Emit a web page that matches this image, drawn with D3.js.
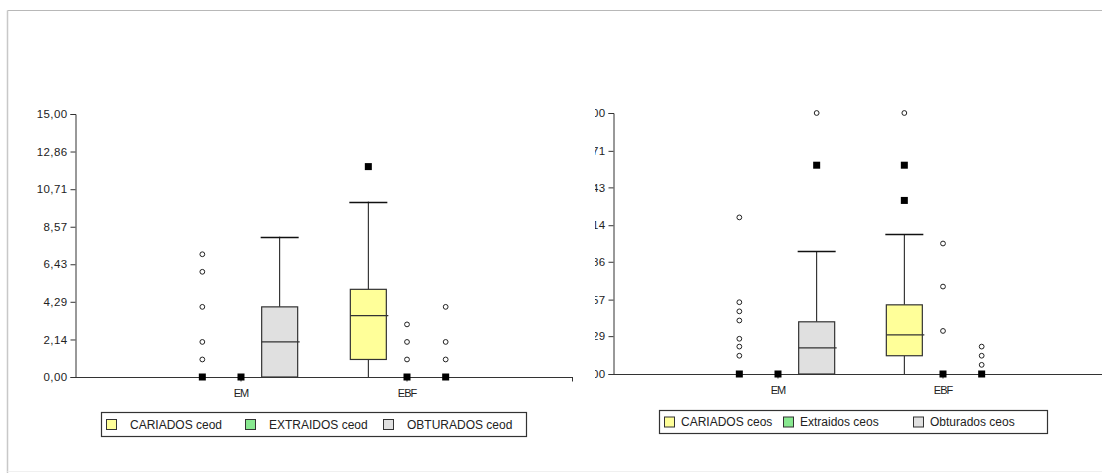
<!DOCTYPE html>
<html>
<head>
<meta charset="utf-8">
<script src="https://cdn.jsdelivr.net/npm/d3@7"></script>
<style>
  html, body { margin: 0; padding: 0; background: #fff; }
  svg { display: block; }
  text { font-family: "Liberation Sans", Arial, sans-serif; fill: #222; }
</style>
</head>
<body>
<svg id="chart" width="1102" height="473"></svg>
<script>
// Groups on the x axis
const categories = ["EM", "EBF"];

// ceod panel: one entry per group (EM, EBF). box = [low whisker, q1, median, q3, high whisker]
const ceodCariadosBox      = [null, [0, 1, 3.5, 5, 10]];
const ceodCariadosOutliers = [[1, 2, 4, 6, 7], []];
const ceodCariadosExtremes = [[0], [12]];

const ceodExtraidosBox      = [null, null];
const ceodExtraidosOutliers = [[], [1, 2, 3]];
const ceodExtraidosExtremes = [[0], [0]];

const ceodObturadosBox      = [[0, 0, 2, 4, 8], null];
const ceodObturadosOutliers = [[], [1, 2, 4]];
const ceodObturadosExtremes = [[], [0]];

const ceodTicks = [0, 2.14, 4.29, 6.43, 8.57, 10.71, 12.86, 15];
const ceodLegend = ["CARIADOS ceod", "EXTRAIDOS ceod", "OBTURADOS ceod"];

// ceos panel
const ceosCariadosBox      = [null, [0, 0.14, 0.30, 0.53, 1.07]];
const ceosCariadosOutliers = [[0.14, 0.21, 0.27, 0.41, 0.48, 0.55, 1.2], [2.0]];
const ceosCariadosExtremes = [[0], [1.33, 1.6]];

const ceosExtraidosBox      = [null, null];
const ceosExtraidosOutliers = [[], [0.33, 0.67, 1.0]];
const ceosExtraidosExtremes = [[0], [0]];

const ceosObturadosBox      = [[0, 0, 0.2, 0.4, 0.94], null];
const ceosObturadosOutliers = [[2.0], [0.07, 0.14, 0.21]];
const ceosObturadosExtremes = [[1.6], [0]];

const ceosTicks = [0, 0.29, 0.57, 0.86, 1.14, 1.43, 1.71, 2];
const ceosLegend = ["CARIADOS ceos", "Extraidos ceos", "Obturados ceos"];

const seriesColors = ["#ffff99", "#88e890", "#e0e0e0"];

const svg = d3.select("#chart");
const fmt = v => d3.format(".2f")(v).replace(".", ",");

// outer frame
svg.append("line").attr("x1", 7.5).attr("x2", 1102).attr("y1", 10.5).attr("y2", 10.5)
  .attr("stroke", "#b8b8b8").attr("stroke-width", 1.2);
svg.append("line").attr("x1", 7.5).attr("x2", 7.5).attr("y1", 10.5).attr("y2", 473)
  .attr("stroke", "#c8c8c8").attr("stroke-width", 1.5);
svg.append("line").attr("x1", 7.5).attr("x2", 1102).attr("y1", 471.5).attr("y2", 471.5)
  .attr("stroke", "#f0f0f0").attr("stroke-width", 1);

function drawPanel(p) {
  const g = svg.append("g");
  const y = d3.scaleLinear().domain(p.domain).range([p.y0, p.y1]);
  const x = d3.scalePoint().domain(categories).range([p.x0, p.x1]).padding(1);
  const inner = d3.scaleBand().domain(d3.range(3)).range([-58, 58]);
  const bw = 36;

  // y axis (optionally clipped on its left side)
  const yWrap = g.append("g");
  if (p.clipLabels) {
    const id = "clip" + p.x0;
    svg.append("clipPath").attr("id", id).append("rect")
      .attr("x", p.clipLabels).attr("y", 0).attr("width", 300).attr("height", 473);
    yWrap.attr("clip-path", `url(#${id})`);
  }
  const yAxis = yWrap.append("g").attr("transform", `translate(${p.x0 + 0.5},0)`)
    .call(d3.axisLeft(y).tickValues(p.ticks).tickFormat(fmt).tickSize(5).tickPadding(3));
  yAxis.select(".domain").attr("stroke", "#333");
  yAxis.selectAll(".tick line").attr("stroke", "#333");
  yAxis.selectAll("text").attr("font-size", 11.5).attr("letter-spacing", 0.4).attr("fill", "#333")
    .attr("font-family", "Liberation Sans, Arial, sans-serif");

  // x axis: baseline with downward ticks at groups and at the end
  const xAxis = g.append("g").attr("transform", `translate(0,${p.y0 + 0.5})`);
  xAxis.append("line").attr("x1", p.x0).attr("x2", p.x1).attr("stroke", "#333");
  xAxis.selectAll("line.t").data(categories.map(c => x(c)).concat([p.x1 - 0.5]))
    .join("line").attr("class", "t")
    .attr("x1", d => d).attr("x2", d => d).attr("y1", 0).attr("y2", 4).attr("stroke", "#333");
  xAxis.selectAll("text").data(categories).join("text")
    .attr("x", d => x(d)).attr("y", 19).attr("text-anchor", "middle")
    .attr("font-size", 11).attr("letter-spacing", -1).attr("fill", "#333").text(d => d);

  p.series.forEach((s, si) => {
    categories.forEach((c, ci) => {
      const cx = x(c) + inner(si) + inner.bandwidth() / 2;
      const b = s.box[ci];
      if (b) {
        const [lo, q1, med, q3, hi] = b;
        g.append("line").attr("x1", cx).attr("x2", cx).attr("y1", y(q3)).attr("y2", y(hi)).attr("stroke", "#111");
        g.append("line").attr("x1", cx).attr("x2", cx).attr("y1", y(q1)).attr("y2", y(lo)).attr("stroke", "#111");
        g.append("line").attr("x1", cx - bw / 2 - 1).attr("x2", cx + bw / 2 + 1)
          .attr("y1", Math.round(y(hi)) + 0.5).attr("y2", Math.round(y(hi)) + 0.5).attr("stroke", "#111").attr("stroke-width", 1.3);
        g.append("rect").attr("x", cx - bw / 2).attr("width", bw)
          .attr("y", y(q3)).attr("height", y(q1) - y(q3))
          .attr("fill", seriesColors[si]).attr("stroke", "#333").attr("stroke-width", 1.2);
        g.append("line").attr("x1", cx - bw / 2).attr("x2", cx + bw / 2 + 2)
          .attr("y1", y(med)).attr("y2", y(med)).attr("stroke", "#333").attr("stroke-width", 1.2);
      }
      s.outliers[ci].forEach(v => {
        g.append("circle").attr("cx", cx).attr("cy", y(v)).attr("r", 2.4)
          .attr("fill", "#fff").attr("stroke", "#222").attr("stroke-width", 1);
      });
      s.extremes[ci].forEach(v => {
        g.append("rect").attr("x", cx - 3.5).attr("y", y(v) - 3.5).attr("width", 7).attr("height", 7)
          .attr("fill", "#000");
      });
    });
  });

  // legend
  const lg = svg.append("g");
  lg.append("rect").attr("x", p.legend.x + 0.5).attr("y", p.legend.y + 0.5)
    .attr("width", p.legend.w).attr("height", p.legend.h)
    .attr("fill", "#fff").attr("stroke", "#333").attr("stroke-width", 1.2);
  p.legendLabels.forEach((t, i) => {
    const sx = p.legend.items[i];
    lg.append("rect").attr("x", sx + 0.5).attr("y", p.legend.y + p.legend.h / 2 - 4.5)
      .attr("width", 10).attr("height", 10).attr("fill", seriesColors[i]).attr("stroke", "#333");
    lg.append("text").attr("x", sx + p.legend.gap).attr("y", p.legend.y + p.legend.h / 2 + 4.5)
      .attr("font-size", 12).attr("fill", "#222").text(t);
  });
}

drawPanel({
  domain: [0, 15], y0: 377, y1: 114, x0: 75, x1: 573,
  ticks: ceodTicks,
  series: [
    { box: ceodCariadosBox, outliers: ceodCariadosOutliers, extremes: ceodCariadosExtremes },
    { box: ceodExtraidosBox, outliers: ceodExtraidosOutliers, extremes: ceodExtraidosExtremes },
    { box: ceodObturadosBox, outliers: ceodObturadosOutliers, extremes: ceodObturadosExtremes }
  ],
  legendLabels: ceodLegend,
  legend: { x: 101, y: 412, w: 425, h: 24, items: [106, 245, 383], gap: 24 }
});

drawPanel({
  domain: [0, 2], y0: 374, y1: 113, x0: 613, x1: 1108,
  ticks: ceosTicks, clipLabels: 595,
  series: [
    { box: ceosCariadosBox, outliers: ceosCariadosOutliers, extremes: ceosCariadosExtremes },
    { box: ceosExtraidosBox, outliers: ceosExtraidosOutliers, extremes: ceosExtraidosExtremes },
    { box: ceosObturadosBox, outliers: ceosObturadosOutliers, extremes: ceosObturadosExtremes }
  ],
  legendLabels: ceosLegend,
  legend: { x: 659, y: 410, w: 388, h: 23, items: [664, 783, 913], gap: 17 }
});
</script>
</body>
</html>
